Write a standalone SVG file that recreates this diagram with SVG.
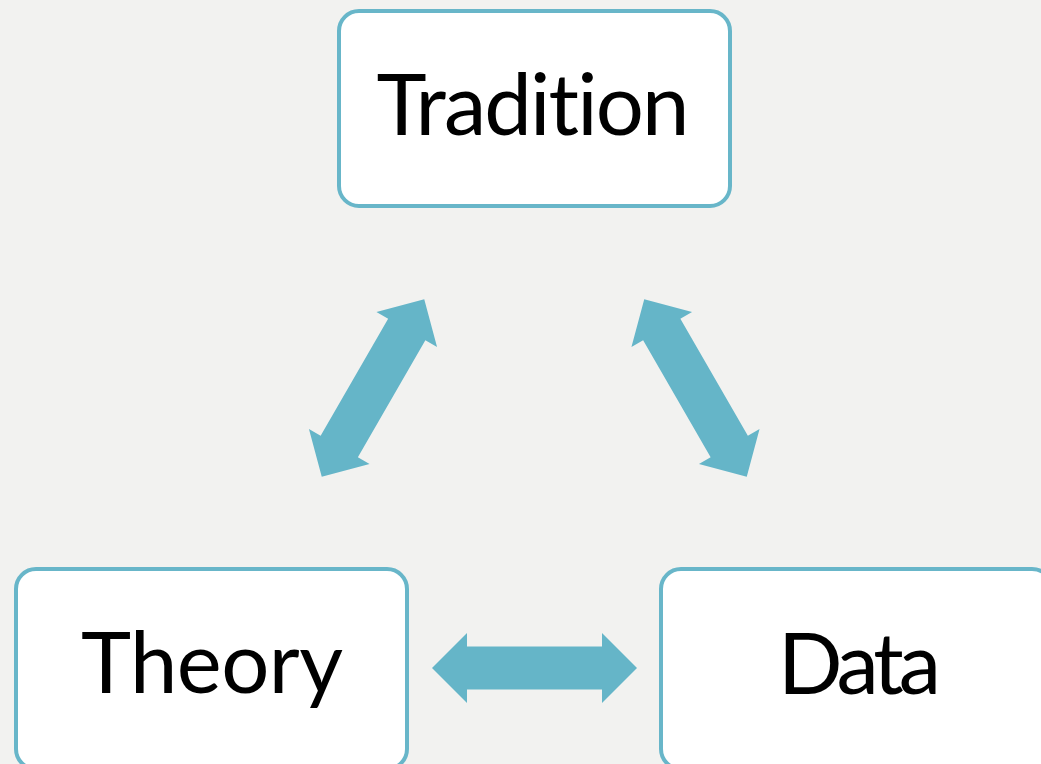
<svg xmlns="http://www.w3.org/2000/svg" width="1041" height="764" viewBox="0 0 1041 764">
  <style>
    .box { fill: #ffffff; stroke: #68b6c9; stroke-width: 4; }
    .label { font-family: "Lato", "Open Sans", "Liberation Sans", sans-serif; font-size: 85px; fill: #000000; text-anchor: middle; font-variant-ligatures: none; font-feature-settings: "liga" 0; }
    .arrow { fill: #65b5c8; }
  </style>
  <defs>
    <!-- double-headed block arrow centred on the origin, 205 long -->
    <polygon id="dbl" points="-102.5,0 -67.5,-35 -67.5,-21.5 67.5,-21.5 67.5,-35 102.5,0 67.5,35 67.5,21.5 -67.5,21.5 -67.5,35"/>
  </defs>
  <rect width="1041" height="764" fill="#f2f2f0"/>

  <g id="connectors" class="arrow">
    <use href="#dbl" transform="translate(534.5,668)"/>
    <use href="#dbl" transform="translate(373,388) rotate(-60)"/>
    <use href="#dbl" transform="translate(695.5,388) rotate(60)"/>
  </g>

  <g id="tradition">
    <rect class="box" x="339" y="11" width="391" height="195" rx="20"/>
    <text class="label" x="533" y="135" textLength="313">Tradition</text>
  </g>
  <g id="theory">
    <rect class="box" x="16" y="569" width="391" height="200" rx="20"/>
    <text class="label" x="212" y="693" textLength="262">Theory</text>
  </g>
  <g id="data">
    <rect class="box" x="661" y="569" width="391" height="200" rx="20"/>
    <text class="label" x="859.5" y="694" textLength="163">Data</text>
  </g>
</svg>
